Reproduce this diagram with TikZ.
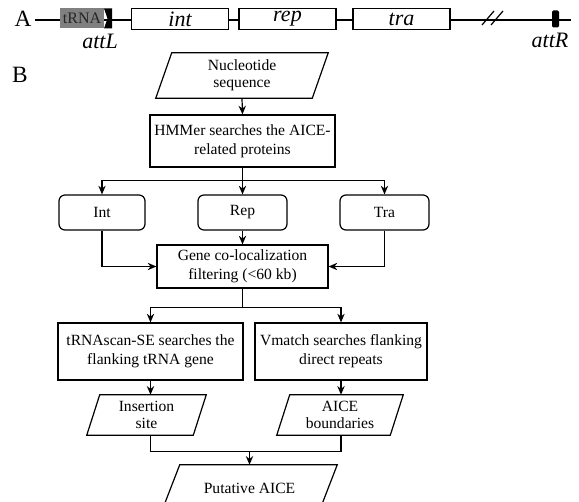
\documentclass[tikz,border=0pt]{standalone}
\usepackage{fontspec}
\setmainfont{Liberation Serif}
\usetikzlibrary{arrows.meta,calc}
\newcommand{\drawpara}[2]{\draw[line width=0.9pt] ($(#1.north west)+(#2,0)$) -- (#1.north east) -- ($(#1.south east)-(#2,0)$) -- (#1.south west) -- cycle;}
\begin{document}
\begin{tikzpicture}[x=0.75pt,y=-0.75pt,
  sz/.style 2 args={minimum width=#1*0.75pt, minimum height=#2*0.75pt},
  txt/.style={font=\fontsize{11.7}{14.5}\selectfont, align=center, inner sep=0pt},
  box/.style={txt, draw, line width=0.9pt},
  rbox/.style={box, rounded corners=4.5pt},
  pbox/.style={txt, font=\fontsize{11.7}{12.8}\selectfont},
  arr/.style={line width=0.9pt, -{Stealth[length=6.5pt,width=5.5pt]}},
  ln/.style={line width=0.9pt},
  gbox/.style={draw, fill=white, line width=0.9pt, inner sep=0pt, sz={97}{20.5}, font=\itshape\fontsize{16.5}{16.5}\selectfont},
  big/.style={font=\fontsize{17.5}{17.5}\selectfont, inner sep=0pt},
  lbl/.style={font=\itshape\fontsize{16.5}{16.5}\selectfont, inner sep=0pt}
]
\useasboundingbox (0,0) rectangle (579,502);
\clip (0,0) rectangle (579,502);

% ---------- Part A ----------
\node[big] (A) at (23,18.5) {A};
\coordinate (lend) at (571,20);
\draw[ln] ($(A.east)+(3,1.5)$) -- (lend);
\node[fill=black!50, sz={44}{20}, inner sep=0pt, text=black!85, font=\fontsize{12}{12}\selectfont] (trnabox) at (82,18.5) {tRNA};
\fill (104,8.5) -- (112,8.5) -- (112,28.5) -- (104,28.5) -- (107.5,18.5) -- cycle;
\node[gbox] (gint) at (180,19) {int};
\node[gbox] (grep) at (287.5,19) {rep};
\node[gbox] (gtra) at (401.5,19) {tra};
\draw[ln] (482,25) -- (494,11);
\draw[ln] (491,25) -- (503,11);
\node[fill=black, sz={7}{17}, inner sep=0pt, rounded corners=1pt] (attRbox) at (555.5,19) {};
\node[lbl] (attL) at (100,41) {attL};
\node[lbl] (attR) at (550,40) {attR};

% ---------- Part B ----------
\node[big] (B) at (20,75) {B};
\node[pbox, sz={172}{45}] (nuc) at (242,75.5) {Nucleotide\\sequence};
\drawpara{nuc}{16}
\node[box, sz={185}{52}] (hmm) at (242.5,141) {HMMer searches the AICE-\\related proteins};
\node[rbox, sz={86}{35}] (int) at (102,212.5) {Int};
\node[rbox, sz={89}{35}] (rep) at (242.5,212.5) {Rep};
\node[rbox, sz={89}{35}] (tra) at (384.5,212.5) {Tra};
\node[box, sz={171}{43}] (gene) at (242.5,266.5) {Gene co-localization\\filtering (<60 kb)};
\node[box, sz={185}{57}] (trna) at (150.5,351.5) {tRNAscan-SE searches the\\flanking tRNA gene};
\node[box, sz={172}{57}] (vm) at (341,351.5) {Vmatch searches flanking\\direct repeats};
\node[pbox, sz={119}{40}] (ins) at (146.5,415) {Insertion\\site};
\drawpara{ins}{13}
\node[pbox, sz={126}{40}] (aice) at (340,415) {AICE\\boundaries};
\drawpara{aice}{13}
\node[pbox, sz={175}{46}] (put) at (249.5,488) {Putative AICE};
\drawpara{put}{18}

\draw[arr] (nuc.south) -- (hmm.north);
\coordinate (b1) at ($(hmm.south)+(0,13)$);
\draw[ln] (hmm.south) -- (b1);
\draw[arr] (b1) -| (int.north);
\draw[arr] (b1) -| (tra.north);
\draw[arr] (b1) -- (rep.north);
\draw[arr] (rep.south) -- (gene.north);
\draw[arr] (int.south) |- (gene.west);
\draw[arr] (tra.south) |- (gene.east);
\coordinate (b2) at ($(gene.south)+(0,19)$);
\draw[ln] (gene.south) -- (b2);
\draw[arr] (b2) -| (trna.north);
\draw[arr] (b2) -| (vm.north);
\draw[arr] (trna.south) -- (trna.south |- ins.north);
\draw[arr] (vm.south) -- (vm.south |- aice.north);
\coordinate (b3) at ($(put.north)+(0,-13)$);
\draw[ln] (trna.south |- ins.south) -- (trna.south |- b3) -- (vm.south |- b3) -- (vm.south |- aice.south);
\draw[arr] (b3) -- (put.north);
\end{tikzpicture}
\end{document}
